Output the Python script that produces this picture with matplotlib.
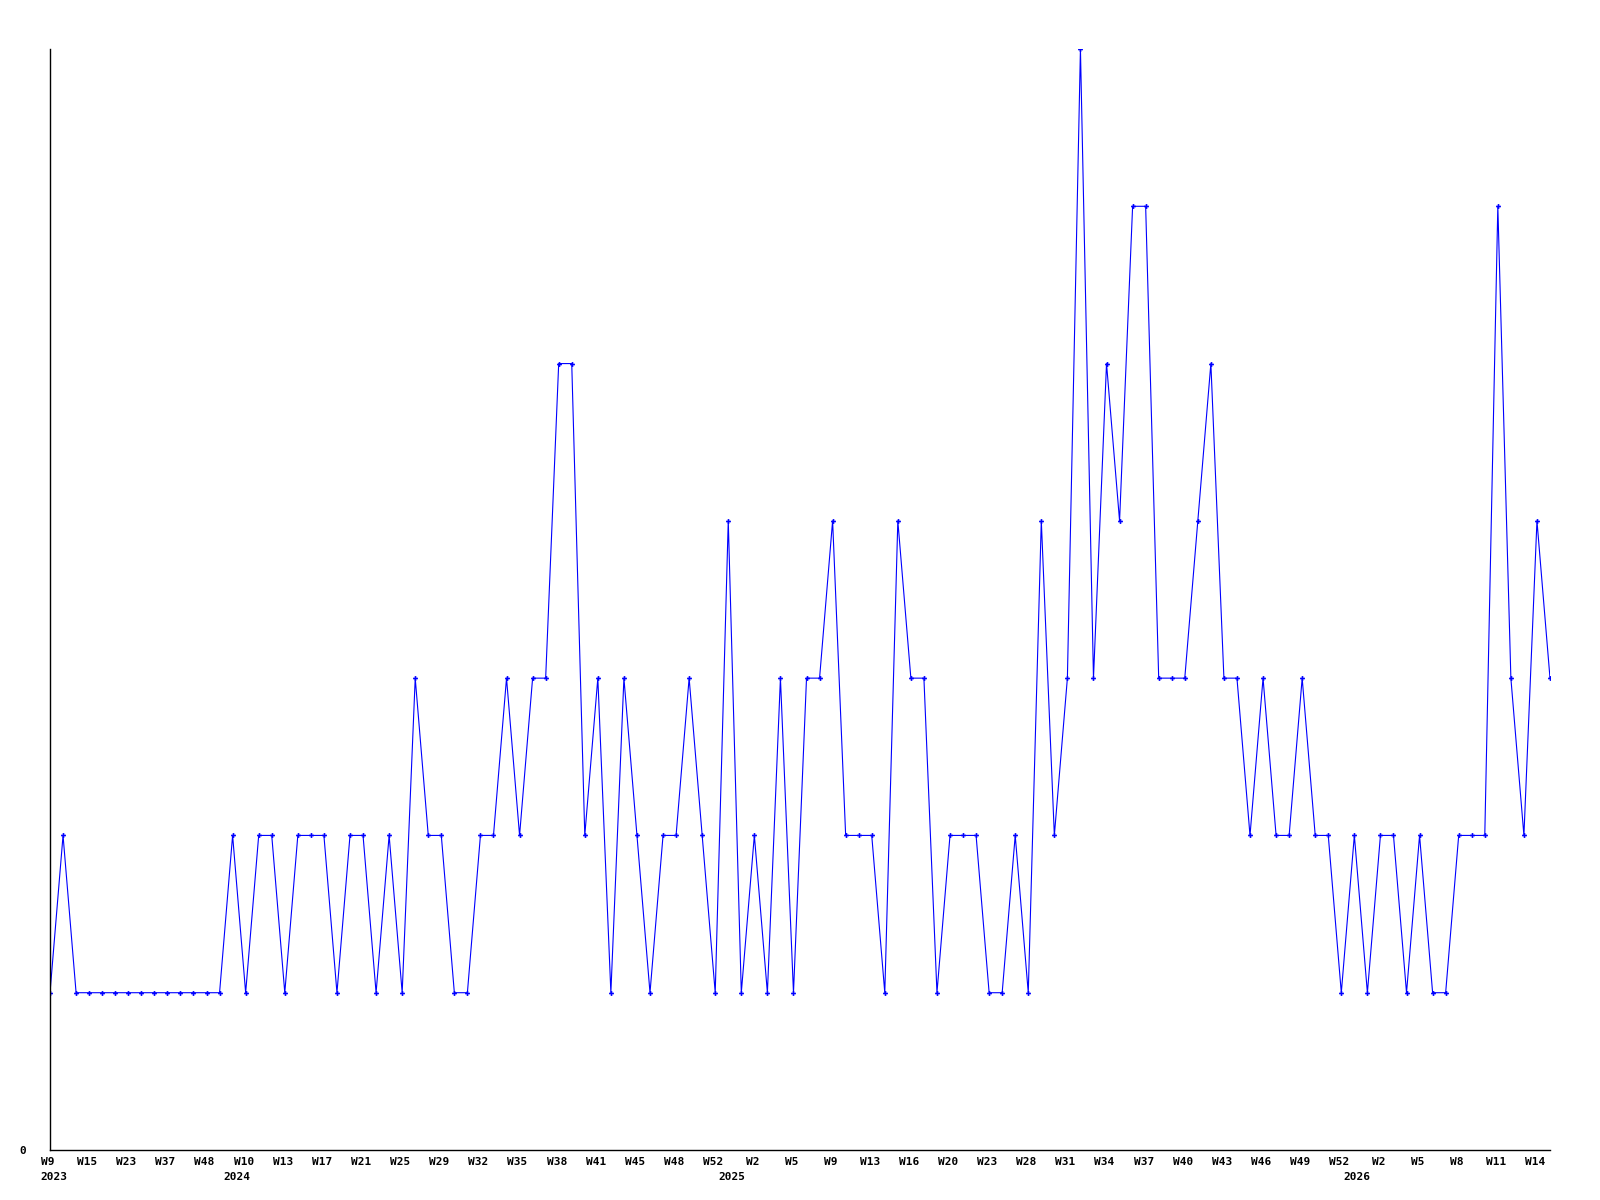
import matplotlib
matplotlib.use("Agg")
import matplotlib.pyplot as plt
import matplotlib.transforms as mtransforms

# weekly values, one per data point (weeks without data are skipped)
values = [1, 2, 1, 1, 1, 1, 1, 1, 1, 1, 1, 1, 1, 1, 2, 1, 2, 2, 1, 2,
          2, 2, 1, 2, 2, 1, 2, 1, 3, 2, 2, 1, 1, 2, 2, 3, 2, 3, 3, 5,
          5, 2, 3, 1, 3, 2, 1, 2, 2, 3, 2, 1, 4, 1, 2, 1, 3, 1, 3, 3,
          4, 2, 2, 2, 1, 4, 3, 3, 1, 2, 2, 2, 1, 1, 2, 1, 4, 2, 3, 7,
          3, 5, 4, 6, 6, 3, 3, 3, 4, 5, 3, 3, 2, 3, 2, 2, 3, 2, 2, 1,
          2, 1, 2, 2, 1, 2, 1, 1, 2, 2, 2, 6, 3, 2, 4, 3]

# one label every third point
week_labels = ["W9", "W15", "W23", "W37", "W48",
               "W10", "W13", "W17", "W21", "W25", "W29", "W32", "W35", "W38",
               "W41", "W45", "W48", "W52",
               "W2", "W5", "W9", "W13", "W16", "W20", "W23", "W28", "W31",
               "W34", "W37", "W40", "W43", "W46", "W49", "W52",
               "W2", "W5", "W8", "W11", "W14"]
label_step = 3

years = ["2023", "2024", "2025", "2026"]
year_pos = [0.3, 14.3, 52.3, 100.2]

x = list(range(len(values)))

fig = plt.figure(figsize=(16, 12), dpi=100)
ax = fig.add_axes([50 / 1600, 1 - 1150 / 1200, 1500 / 1600, 1101 / 1200])

ax.plot(x, values, color="#0000ff", linewidth=0.8,
        marker="P", markersize=3.5, markeredgewidth=0)

ax.set_xlim(0, len(values) - 1)
ax.set_ylim(0, max(values))

for s in ["top", "right"]:
    ax.spines[s].set_visible(False)
for s in ["left", "bottom"]:
    ax.spines[s].set_color("black")
    ax.spines[s].set_linewidth(1)

font = dict(family="DejaVu Sans Mono", fontweight="bold", fontsize=8)

ax.set_yticks([0])
ax.set_yticklabels(["0"], **font)
ax.tick_params(axis="y", length=0, pad=17)

ax.set_xticks([])
shift = mtransforms.ScaledTranslation(-2 / 100, 0, fig.dpi_scale_trans)
trans = ax.get_xaxis_transform()
for i, lab in enumerate(week_labels):
    ax.text(i * label_step, -0.006, lab, transform=trans + shift,
            ha="center", va="top", **font)
for pos, yr in zip(year_pos, years):
    ax.text(pos, -0.020, yr, transform=trans,
            ha="center", va="top", **font)

fig.savefig("out.png", dpi=100)
